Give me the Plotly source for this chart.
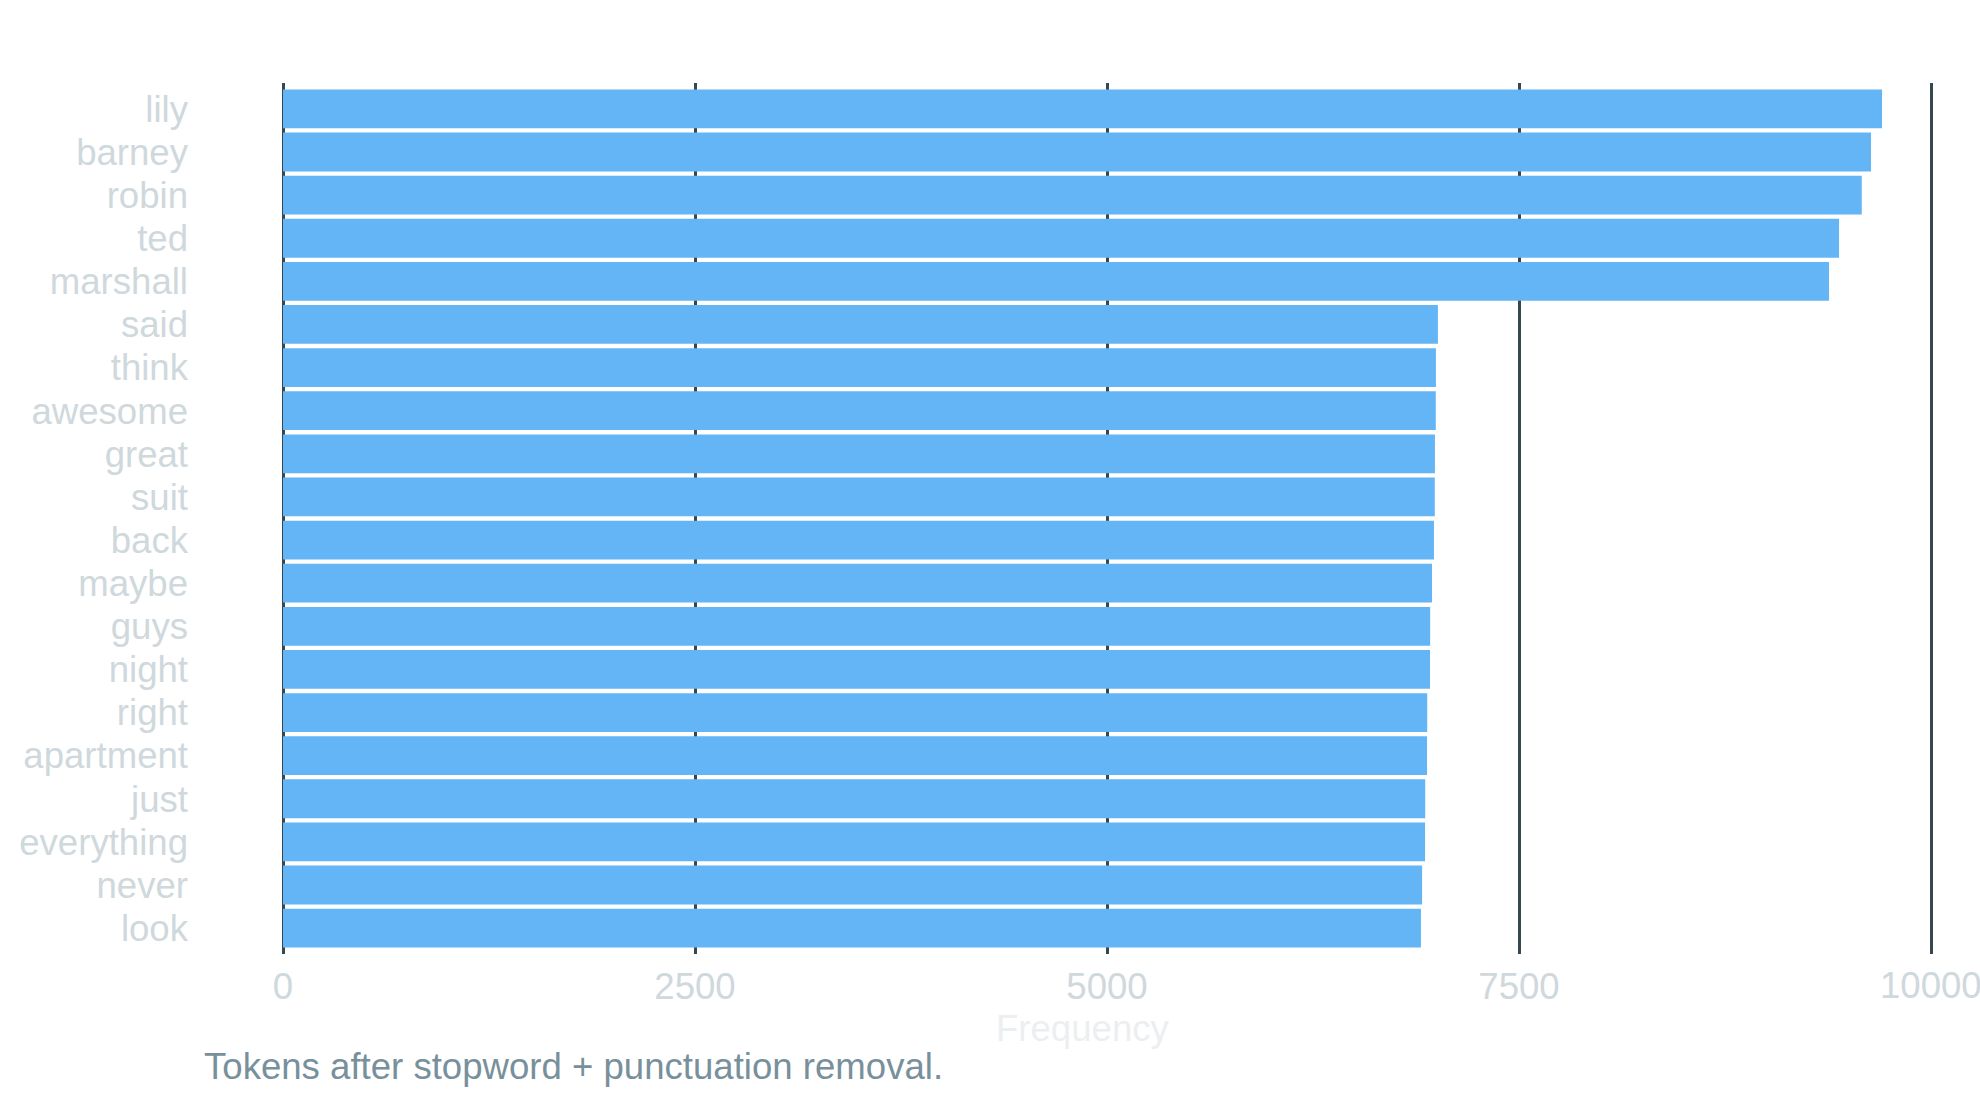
import plotly.graph_objects as go

words = ["lily", "barney", "robin", "ted", "marshall", "said", "think", "awesome",
         "great", "suit", "back", "maybe", "guys", "night", "right", "apartment",
         "just", "everything", "never", "look"]
counts = [9703, 9636, 9580, 9442, 9381, 7008, 6996, 6995, 6990, 6989, 6984,
          6972, 6961, 6960, 6943, 6942, 6931, 6930, 6912, 6905]
x_ticks = [0, 2500, 5000, 7500, 10000]
x_title = "Frequency"
caption = "Tokens after stopword + punctuation removal."

FONT = "Liberation Sans, Arial, Helvetica, sans-serif"
FS = 36.6

fig = go.Figure(go.Bar(
    x=counts, y=words, orientation="h",
    marker=dict(color="#64b5f6", line=dict(width=0)),
    hoverinfo="x+y",
))

L, R, T, B = 283, 46, 83, 146
W, H = 1980, 1100
pw = W - L - R
ph = H - T - B
x_end = 10000 * pw / 1648.0  # keeps 10000 at x=1931 while staying inside the plot

# the last tick label runs off the page edge, so Plotly drops it; draw it as text
tick_text = [str(v) for v in x_ticks[:-1]] + [""]

fig.update_layout(
    width=W, height=H,
    margin=dict(l=L, r=R, t=T, b=B, pad=0),
    paper_bgcolor="white", plot_bgcolor="white",
    bargap=0.1,
    showlegend=False,
    font=dict(family=FONT, size=FS, color="#cfd8dc"),
    xaxis=dict(
        range=[0, x_end], tickmode="array", tickvals=x_ticks, ticktext=tick_text,
        showgrid=True, gridcolor="#37474f", gridwidth=2.5,
        zeroline=True, zerolinecolor="#37474f", zerolinewidth=3,
        showline=False, ticks="", ticklabelstandoff=7,
        tickfont=dict(family=FONT, size=FS, color="#cfd8dc"),
        layer="below traces",
    ),
    yaxis=dict(
        type="category", categoryorder="array", categoryarray=words,
        tickmode="array", tickvals=words, ticktext=words,
        range=[19.6, -0.6],
        showgrid=False, zeroline=False, showline=False, ticks="",
        ticklabelstandoff=94,
        tickfont=dict(family=FONT, size=FS, color="#cfd8dc"),
    ),
    annotations=[
        dict(text=str(x_ticks[-1]), xref="x", yref="paper",
             x=x_ticks[-1], y=-(985 - (H - B)) / ph,
             xanchor="center", yanchor="middle", showarrow=False,
             font=dict(family=FONT, size=FS, color="#cfd8dc")),
        dict(text=x_title, xref="paper", yref="paper",
             x=(1083 - L) / pw, y=-(1028 - (H - B)) / ph,
             xanchor="center", yanchor="middle", showarrow=False,
             font=dict(family=FONT, size=FS, color="#eceff1")),
        dict(text=caption, xref="paper", yref="paper",
             x=(202 - L) / pw, y=-(1066 - (H - B)) / ph,
             xanchor="left", yanchor="middle", showarrow=False,
             font=dict(family=FONT, size=FS, color="#78909c")),
    ],
)

fig.write_html("out.html")
